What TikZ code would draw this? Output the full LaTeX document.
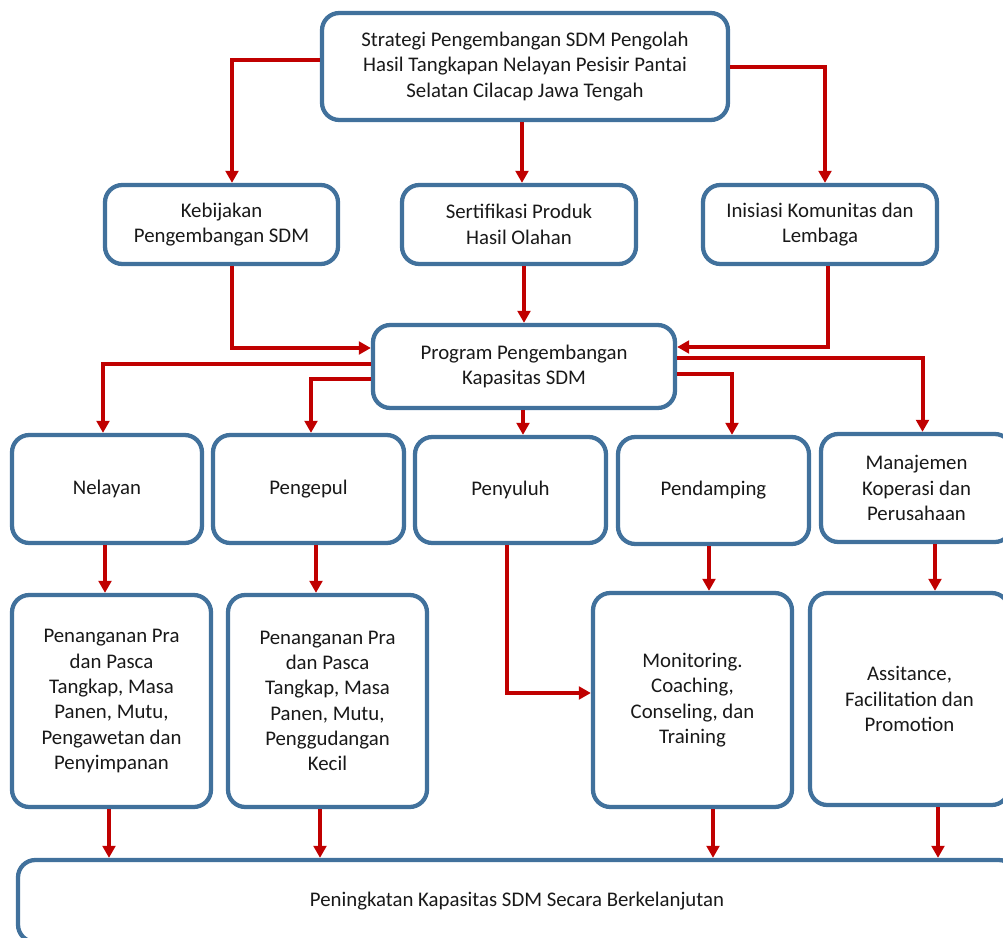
\documentclass[tikz,border=0pt]{standalone}
\usepackage{fontspec}
\setmainfont{Carlito}
\usetikzlibrary{arrows.meta,calc}
\definecolor{boxblue}{RGB}{65,113,156}
\definecolor{linkred}{RGB}{192,0,0}
\definecolor{ink}{RGB}{25,25,25}
\begin{document}
\begin{tikzpicture}[x=0.75pt,y=-0.75pt,
  bx/.style 2 args={draw=boxblue, line width=3.2pt, rounded corners=13pt,
    fill=white, align=center, inner sep=0pt, text=ink,
    font=\fontsize{15.6pt}{19pt}\selectfont,
    minimum width=#1*0.75pt, minimum height=#2*0.75pt},
  arr/.style={draw=linkred, line width=3pt,
    -{Triangle[length=9pt,width=9.5pt]}}]
\path[use as bounding box, clip] (0,0) rectangle (1003,938);

% strategy and its three pillars
\node[bx={406}{107}] (top) at (525,66.5)
  {Strategi Pengembangan SDM Pengolah\\Hasil Tangkapan Nelayan Pesisir Pantai\\Selatan Cilacap Jawa Tengah};
\node[bx={233}{79}] (keb) at (221.5,224.5) {Kebijakan\\Pengembangan SDM};
\node[bx={234}{79}] (ser) at (519,224.5) {Sertifikasi Produk\\Hasil Olahan};
\node[bx={234}{79}] (ini) at (820,224.5) {Inisiasi Komunitas dan\\Lembaga};

% programme
\node[bx={302}{83}] (prog) at (524,366.5) {Program Pengembangan\\Kapasitas SDM};

% actors
\node[bx={190}{108}] (nel) at (107,489) {Nelayan};
\node[bx={191}{108}] (pgp) at (308.5,489) {Pengepul};
\node[bx={191}{106}] (pny) at (510.5,490) {Penyuluh};
\node[bx={191}{107}] (pdm) at (713.5,490.5) {Pendamping};
\node[bx={191}{108}] (man) at (916.5,488) {Manajemen\\Koperasi dan\\Perusahaan};

% activities
\node[bx={199}{212}] (ra) at (111.5,701)
  {Penanganan Pra\\dan Pasca\\Tangkap, Masa\\Panen, Mutu,\\Pengawetan dan\\Penyimpanan};
\node[bx={199}{212}] (rb) at (327.5,701)
  {Penanganan Pra\\dan Pasca\\Tangkap, Masa\\Panen, Mutu,\\Penggudangan\\Kecil};
\node[bx={199}{214}] (rc) at (692.5,700)
  {Monitoring.\\Coaching,\\Conseling, dan\\Training};
\node[bx={199}{212}] (rd) at (909.5,699)
  {Assitance,\\Facilitation dan\\Promotion};

% outcome
\node[bx={998}{82}] (bot) at (517,901) {Peningkatan Kapasitas SDM Secara Berkelanjutan};

% strategy -> pillars
\draw[arr] ($(top.west)+(0,-6)$) -| ($(keb.north)+(10.5,0)$);
\draw[arr] ($(top.south)+(-3,0)$) -- ($(ser.north)+(3,0)$);
\draw[arr] ($(top.east)+(0,0.5)$) -| ($(ini.north)+(5,0)$);

% pillars -> programme
\draw[arr] ($(keb.south)+(10.5,0)$) |- ($(prog.west)+(0,-18.5)$);
\draw[arr] ($(ser.south)+(5,0)$) -- (prog.north);
\draw[arr] ($(ini.south)+(8,0)$) |- ($(prog.east)+(0,-19.5)$);

% programme -> actors
\draw[arr] ($(prog.west)+(0,-2.5)$) -| ($(nel.north)+(-4,0)$);
\draw[arr] ($(prog.west)+(0,12.5)$) -| ($(pgp.north)+(2.5,0)$);
\draw[arr] ($(prog.south)+(-1,0)$) -- ($(pny.north)+(12.5,0)$);
\draw[arr] ($(prog.east)+(0,7.5)$) -| ($(pdm.north)+(18.5,0)$);
\draw[arr] ($(prog.east)+(0,-8.5)$) -| ($(man.north)+(6,0)$);

% actors -> activities
\draw[arr] ($(nel.south)+(-2,0)$) -- ($(ra.north)+(-6.5,0)$);
\draw[arr] ($(pgp.south)+(7.5,0)$) -- ($(rb.north)+(-11.5,0)$);
\draw[arr] ($(pny.south)+(-3.5,0)$) |- ($(rc.west)+(0,-7)$);
\draw[arr] ($(pdm.south)+(-4.5,0)$) -- ($(rc.north)+(16.5,0)$);
\draw[arr] ($(man.south)+(18.5,0)$) -- ($(rd.north)+(25.5,0)$);

% activities -> outcome
\draw[arr] ($(ra.south)+(-2.5,0)$) -- ($(ra.south |- bot.north)+(-2.5,0)$);
\draw[arr] ($(rb.south)+(-7.5,0)$) -- ($(rb.south |- bot.north)+(-7.5,0)$);
\draw[arr] ($(rc.south)+(20.5,0)$) -- ($(rc.south |- bot.north)+(20.5,0)$);
\draw[arr] ($(rd.south)+(28.5,0)$) -- ($(rd.south |- bot.north)+(28.5,0)$);
\end{tikzpicture}
\end{document}
